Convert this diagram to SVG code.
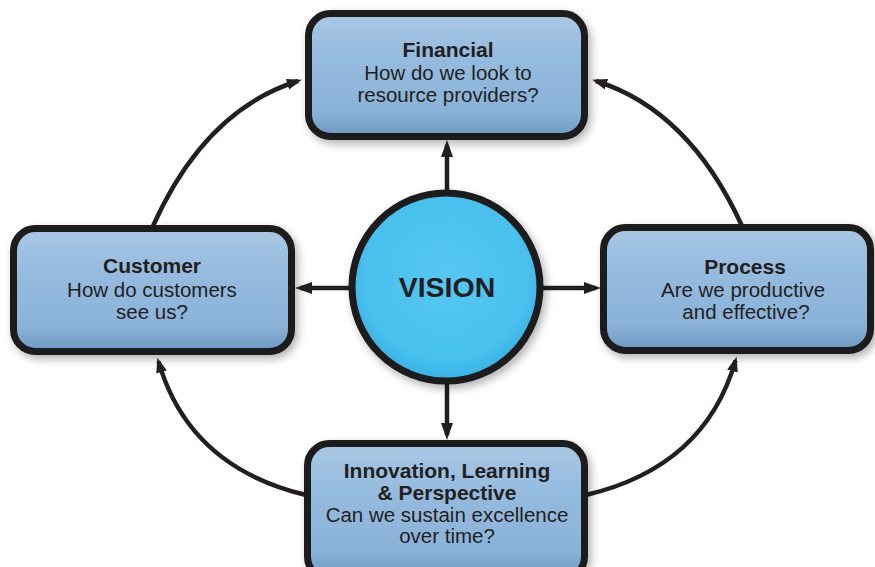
<svg xmlns="http://www.w3.org/2000/svg" width="875" height="567" viewBox="0 0 875 567">
  <defs>
    <linearGradient id="boxFill" x1="0" y1="0" x2="0" y2="1">
      <stop offset="0" stop-color="#a9c8e5"/>
      <stop offset="0.35" stop-color="#95bbde"/>
      <stop offset="0.8" stop-color="#8ab2d8"/>
      <stop offset="1" stop-color="#6e98c2"/>
    </linearGradient>
    <radialGradient id="circleFill" cx="0.5" cy="0.45" r="0.55">
      <stop offset="0" stop-color="#55c8f1"/>
      <stop offset="0.8" stop-color="#48c0ee"/>
      <stop offset="1" stop-color="#36b1e3"/>
    </radialGradient>
    <filter id="shadow" x="-10%" y="-10%" width="125%" height="130%">
      <feDropShadow dx="3" dy="4" stdDeviation="4" flood-color="#000" flood-opacity="0.3"/>
    </filter>
    <marker id="head" markerUnits="userSpaceOnUse" markerWidth="18" markerHeight="14" refX="12" refY="7" orient="auto">
      <path d="M0,1 L17,7 L0,13 z" fill="#231f20"/>
    </marker>
    <marker id="headSm" markerUnits="userSpaceOnUse" markerWidth="16" markerHeight="12" refX="11" refY="6" orient="auto">
      <path d="M0,0.5 L15,6 L0,11.5 z" fill="#231f20"/>
    </marker>
  </defs>
  <style>
    .box { fill: url(#boxFill); stroke: #1c1a1b; stroke-width: 7; filter: url(#shadow); }
    .hub { fill: url(#circleFill); stroke: #1c1a1b; stroke-width: 7; filter: url(#shadow); }
    .title { font-family: "Liberation Sans", Arial, sans-serif; font-weight: bold; font-size: 21px; fill: #231f20; text-anchor: middle; }
    .body { font-family: "Liberation Sans", Arial, sans-serif; font-size: 20.5px; fill: #231f20; text-anchor: middle; }
    .hubText { font-family: "Liberation Sans", Arial, sans-serif; font-weight: bold; font-size: 28.5px; fill: #231f20; text-anchor: middle; }
    .link { fill: none; stroke: #231f20; stroke-width: 4.5; }
  </style>

  <rect width="875" height="567" fill="#ffffff"/>

  <!-- connectors -->
  <g id="connectors">
    <line class="link" x1="447" y1="192" x2="447" y2="145" marker-end="url(#head)"/>
    <line class="link" x1="447" y1="382" x2="447" y2="435" marker-end="url(#head)"/>
    <line class="link" x1="350" y1="288" x2="300" y2="288" marker-end="url(#head)"/>
    <line class="link" x1="542" y1="288" x2="596" y2="288" marker-end="url(#head)"/>
    <path class="link" d="M153,226 Q205,110 298,81" marker-end="url(#headSm)"/>
    <path class="link" d="M742,226 Q689,110 596,81" marker-end="url(#headSm)"/>
    <path class="link" d="M306,495 Q189,467 158.5,361.5" marker-end="url(#headSm)"/>
    <path class="link" d="M586,495 Q705,467 735.5,360.5" marker-end="url(#headSm)"/>
  </g>

  <!-- Financial -->
  <g id="financial">
    <rect class="box" x="308.5" y="13.5" width="276" height="123" rx="22"/>
    <text class="title" x="448" y="57">Financial</text>
    <text class="body" x="448" y="80">How do we look to</text>
    <text class="body" x="448" y="102">resource providers?</text>
  </g>

  <!-- Customer -->
  <g id="customer">
    <rect class="box" x="13.5" y="228.5" width="278" height="123" rx="22"/>
    <text class="title" x="152" y="273">Customer</text>
    <text class="body" x="152" y="297">How do customers</text>
    <text class="body" x="152" y="319">see us?</text>
  </g>

  <!-- Process -->
  <g id="process">
    <rect class="box" x="603.5" y="227.5" width="267" height="123" rx="22"/>
    <text class="title" x="745" y="274">Process</text>
    <text class="body" x="743" y="297">Are we productive</text>
    <text class="body" x="746" y="319">and effective?</text>
  </g>

  <!-- Innovation, Learning & Perspective -->
  <g id="innovation">
    <rect class="box" x="307.5" y="443.5" width="277" height="135" rx="22"/>
    <text class="title" x="447" y="478">Innovation, Learning</text>
    <text class="title" x="447" y="500">&amp; Perspective</text>
    <text class="body" x="447" y="522">Can we sustain excellence</text>
    <text class="body" x="447" y="543">over time?</text>
  </g>

  <!-- Vision hub -->
  <g id="vision">
    <circle class="hub" cx="446" cy="287" r="94"/>
    <text class="hubText" x="447" y="297">VISION</text>
  </g>
</svg>
